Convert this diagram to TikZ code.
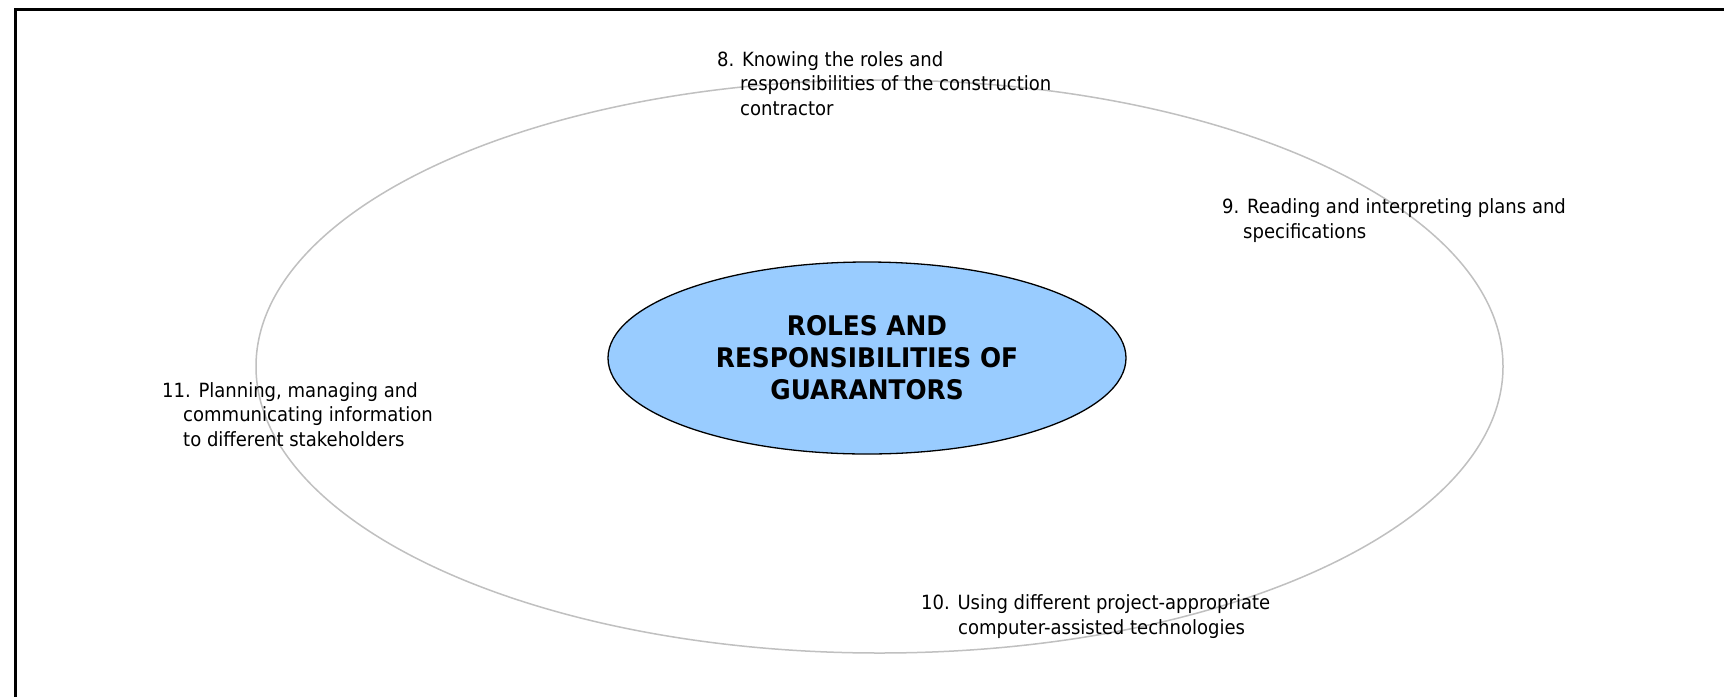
\documentclass[tikz,border=0pt]{standalone}
\usepackage{fontspec}
\setmainfont{DejaVu Sans}[FakeStretch=0.92]
\usetikzlibrary{shapes.geometric}
\definecolor{ringgray}{HTML}{C0C0C0}
\definecolor{coreblue}{HTML}{99CCFF}
\tikzset{
  itemtext/.style={anchor=base west, inner sep=0pt, align=left, font=\fontsize{19.6}{24.5}\selectfont},
  ring/.style={ellipse, draw=ringgray, line width=1.5pt, inner sep=0pt},
  core/.style={ellipse, draw=black, line width=1.3pt, fill=coreblue, inner sep=0pt, align=center, font=\bfseries\fontsize{27}{32}\selectfont},
  frameline/.style={line width=2.5pt, black},
}
\begin{document}
\begin{tikzpicture}[x=1pt,y=-1pt]
\useasboundingbox (0,0) rectangle (1724,697);
\fill[white] (0,0) rectangle (1724,697);
\draw[frameline] (1724,9.5) -- (15.7,9.5) -- (15.7,697);
\node[ring, minimum width=1247pt, minimum height=573pt] (ring) at (879.5,366.5) {};
\node[core, minimum width=518pt, minimum height=192pt] (core) at (867,358) {ROLES AND\\RESPONSIBILITIES OF\\GUARANTORS};
\node[itemtext] (n8) at (717,115) {8. Knowing the roles and\\\hspace*{23pt}responsibilities of the construction\\\hspace*{23pt}contractor};
\node[itemtext] (n9) at (1222,238) {9. Reading and interpreting plans and\\\hspace*{21pt}specifications};
\node[itemtext] (n10) at (921,634) {10. Using different project-appropriate\\\hspace*{37pt}computer-assisted technologies};
\node[itemtext] (n11) at (162,446) {11. Planning, managing and\\\hspace*{21pt}communicating information\\\hspace*{21pt}to different stakeholders};
\end{tikzpicture}
\end{document}
